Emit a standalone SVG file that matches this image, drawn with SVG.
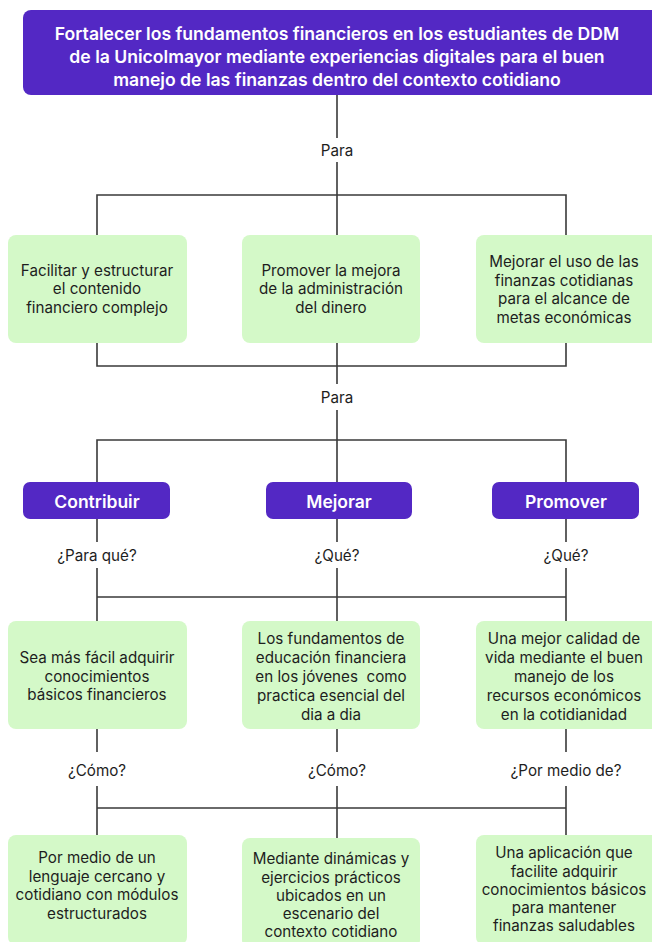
<svg xmlns="http://www.w3.org/2000/svg" width="652" height="942" viewBox="0 0 652 942">
<style>
.pb{fill:#5328C4}
.gb{fill:#D4F9C8}
.tw{fill:#fff;font-family:Inter,"Liberation Sans",sans-serif;font-weight:600;text-anchor:middle;dominant-baseline:central}
.tt{font-size:17.6px}
.tv{font-size:17.5px}
.tg{fill:#1e1e1e;font-family:Inter,"Liberation Sans",sans-serif;font-size:15.2px;text-anchor:middle;dominant-baseline:central}
.lb{fill:#1e1e1e;font-family:Inter,"Liberation Sans",sans-serif;font-size:15.2px;text-anchor:middle;dominant-baseline:central}
.c{stroke:#3a3a3a;stroke-width:1.6;fill:none}
</style>
<rect width="652" height="942" fill="#fff"/>
<g id="connectors">
<path class="c" d="M337 95V138M337 162V195M97 235V195H566V235M337 195V235"/>
<path class="c" d="M97 343V366H566V343M337 343V384M337 410V440M97 482V440H566V482M337 440V482"/>
<path class="c" d="M97 519V542M337 519V542M566 519V542M97 568V621M337 568V621M566 568V621M97 597H566"/>
<path class="c" d="M97 729V752M337 729V752M566 729V752M97 786V835M337 786V838M566 786V835M97 808H566"/>
</g>
<g id="goal">
<rect class="pb" x="23" y="10" width="640" height="85" rx="8"/>
<text class="tw tt" x="337" y="33">Fortalecer los fundamentos financieros en los estudiantes de DDM</text>
<text class="tw tt" x="337" y="56">de la Unicolmayor mediante experiencias digitales para el buen</text>
<text class="tw tt" x="337" y="79">manejo de las finanzas dentro del contexto cotidiano</text>
</g>
<text class="lb" x="337" y="150">Para</text>
<g id="obj1">
<rect class="gb" x="8" y="235" width="179" height="108" rx="8"/>
<text class="tg" x="97" y="270">Facilitar y estructurar</text>
<text class="tg" x="97" y="288">el contenido</text>
<text class="tg" x="97" y="307">financiero complejo</text>
</g>
<g id="obj2">
<rect class="gb" x="242" y="235" width="178" height="108" rx="8"/>
<text class="tg" x="331" y="270">Promover la mejora</text>
<text class="tg" x="331" y="288">de la administración</text>
<text class="tg" x="331" y="307">del dinero</text>
</g>
<g id="obj3">
<rect class="gb" x="476" y="235" width="190" height="108" rx="8"/>
<text class="tg" x="564" y="261">Mejorar el uso de las</text>
<text class="tg" x="564" y="280">finanzas cotidianas</text>
<text class="tg" x="564" y="298">para el alcance de</text>
<text class="tg" x="564" y="317">metas económicas</text>
</g>
<text class="lb" x="337" y="397">Para</text>
<g id="contribuir">
<rect class="pb" x="23" y="482" width="147" height="37" rx="7"/>
<text class="tw tv" x="97" y="501">Contribuir</text>
</g>
<g id="mejorar">
<rect class="pb" x="266" y="482" width="146" height="37" rx="7"/>
<text class="tw tv" x="339" y="501">Mejorar</text>
</g>
<g id="promover">
<rect class="pb" x="492" y="482" width="147" height="37" rx="7"/>
<text class="tw tv" x="566" y="501">Promover</text>
</g>
<text class="lb" x="97" y="555">¿Para qué?</text>
<text class="lb" x="337" y="555">¿Qué?</text>
<text class="lb" x="566" y="555">¿Qué?</text>
<g id="r2a">
<rect class="gb" x="8" y="621" width="179" height="108" rx="8"/>
<text class="tg" x="97" y="657">Sea más fácil adquirir</text>
<text class="tg" x="97" y="676">conocimientos</text>
<text class="tg" x="97" y="694">básicos financieros</text>
</g>
<g id="r2b">
<rect class="gb" x="242" y="621" width="178" height="108" rx="8"/>
<text class="tg" x="331" y="638">Los fundamentos de</text>
<text class="tg" x="331" y="657">educación financiera</text>
<text class="tg" x="331" y="676">en los jóvenes&#160; como</text>
<text class="tg" x="331" y="695">practica esencial del</text>
<text class="tg" x="331" y="714">dia a dia</text>
</g>
<g id="r2c">
<rect class="gb" x="476" y="621" width="190" height="108" rx="8"/>
<text class="tg" x="564" y="638">Una mejor calidad de</text>
<text class="tg" x="564" y="657">vida mediante el buen</text>
<text class="tg" x="564" y="676">manejo de los</text>
<text class="tg" x="564" y="695">recursos económicos</text>
<text class="tg" x="564" y="714">en la cotidianidad</text>
</g>
<text class="lb" x="97" y="770">¿Cómo?</text>
<text class="lb" x="337" y="770">¿Cómo?</text>
<text class="lb" x="566" y="770">¿Por medio de?</text>
<g id="r3a">
<rect class="gb" x="8" y="835" width="179" height="110" rx="8"/>
<text class="tg" x="97" y="857">Por medio de un</text>
<text class="tg" x="97" y="876">lenguaje cercano y</text>
<text class="tg" x="97" y="894">cotidiano con módulos</text>
<text class="tg" x="97" y="913">estructurados</text>
</g>
<g id="r3b">
<rect class="gb" x="242" y="838" width="178" height="110" rx="8"/>
<text class="tg" x="331" y="858">Mediante dinámicas y</text>
<text class="tg" x="331" y="877">ejercicios prácticos</text>
<text class="tg" x="331" y="895">ubicados en un</text>
<text class="tg" x="331" y="913">escenario del</text>
<text class="tg" x="331" y="931">contexto cotidiano</text>
</g>
<g id="r3c">
<rect class="gb" x="476" y="835" width="190" height="110" rx="8"/>
<text class="tg" x="564" y="852">Una aplicación que</text>
<text class="tg" x="564" y="871">facilite adquirir</text>
<text class="tg" x="564" y="889">conocimientos básicos</text>
<text class="tg" x="564" y="907">para mantener</text>
<text class="tg" x="564" y="925">finanzas saludables</text>
</g>
</svg>
